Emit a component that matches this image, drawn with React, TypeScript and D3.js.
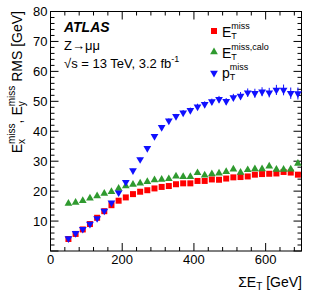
import React from 'react';
import * as d3 from 'd3';

// bin centres in sum ET [GeV]
const sumEt = [50, 70, 90, 110, 130, 150, 170, 190, 210, 230, 250, 270, 290, 310, 330, 350, 370,
    390, 410, 430, 450, 470, 490, 510, 530, 550, 570, 590, 610, 630, 650, 670, 690];

const etMiss = [4.0, 5.7, 7.2, 9.0, 11.1, 13.3, 15.3, 16.8, 17.9, 19.0, 19.8, 20.3, 20.9, 21.4, 21.7,
    22.3, 22.6, 22.6, 23.4, 23.4, 23.9, 23.8, 24.2, 24.6, 24.7, 24.9, 25.5, 25.7, 25.8, 25.9, 26.4, 26.2, 25.5];

const etMissCalo = [15.9, 16.2, 16.8, 17.6, 18.4, 19.2, 19.8, 20.9, 21.7, 22.2, 22.6, 23.1, 23.7, 23.9,
    24.1, 25.0, 24.8, 24.8, 26.1, 25.3, 25.7, 26.0, 26.5, 27.3, 26.2, 27.1, 27.4, 27.4, 28.3, 27.2, 27.2, 27.3, 29.2];

const ptMiss = [4.2, 5.9, 7.3, 9.0, 10.9, 13.4, 16.1, 19.5, 23.0, 26.9, 30.6, 34.3, 38.3, 41.3, 43.5,
    45.0, 46.2, 47.0, 48.2, 49.0, 49.9, 50.7, 50.0, 51.3, 51.8, 52.9, 52.7, 53.2, 52.9, 53.8, 53.8, 52.7, 52.6];

const ptMissErr = [0.1, 0.1, 0.2, 0.2, 0.3, 0.3, 0.4, 0.5, 0.5, 0.6, 0.6, 0.7, 0.7, 0.8, 0.8, 0.8, 0.9,
    0.9, 1.0, 1.0, 1.0, 1.1, 1.1, 1.2, 1.3, 1.4, 1.5, 1.5, 1.6, 1.7, 1.8, 1.9, 2.0];

const xTicks = [0, 200, 400, 600];
const yTicks = [10, 20, 30, 40, 50, 60, 70, 80];

const FONT = '"Liberation Sans", Arial, Helvetica, sans-serif';
const RED = '#ff0000';
const GREEN = '#2f9a2f';
const BLUE = '#1010ff';

const W = 309;
const H = 295;
const L = 50.5, R = 301.5, T = 11.5, B = 251;

const App = () => {
    const x = d3.scaleLinear().domain([0, 700]).range([L, R]);
    const y = d3.scaleLinear().domain([0, 80]).range([B, T]);

    const square = d3.symbol().type(d3.symbolSquare).size(36)() as string;
    const triUp = d3.symbol().type(d3.symbolTriangle).size(26)() as string;

    const xMinor = d3.range(0, 701, 40);
    const yMinor = d3.range(0, 81, 2);

    return (
        <svg width={W} height={H} style={{ position: 'absolute', left: 0, top: 0, background: '#fff' }}
            fontFamily={FONT}>
            <rect x={0} y={0} width={W} height={H} fill="#fff" />

            {/* frame ticks */}
            <g stroke="#000" strokeWidth={1}>
                {xMinor.map(v => {
                    const major = v % 200 === 0;
                    const len = major ? 8 : 4;
                    return (
                        <g key={'xt' + v}>
                            <line x1={x(v)} x2={x(v)} y1={B} y2={B - len} />
                            <line x1={x(v)} x2={x(v)} y1={T} y2={T + len} />
                        </g>
                    );
                })}
                {yMinor.map(v => {
                    const major = v % 10 === 0;
                    const len = major ? 8 : 4;
                    return (
                        <g key={'yt' + v}>
                            <line x1={L} x2={L + len} y1={y(v)} y2={y(v)} />
                            <line x1={R} x2={R - len} y1={y(v)} y2={y(v)} />
                        </g>
                    );
                })}
            </g>
            <rect x={L} y={T} width={R - L} height={B - T} fill="none" stroke="#000" strokeWidth={1} />

            {/* tick labels */}
            <g fontSize={13} fill="#000">
                {xTicks.map(v => (
                    <text key={'xl' + v} x={x(v)} y={264} textAnchor="middle">{v}</text>
                ))}
                {yTicks.map(v => (
                    <text key={'yl' + v} x={47.5} y={y(v) + 4.6} textAnchor="end">{v}</text>
                ))}
            </g>

            {/* axis titles */}
            <text x={302} y={287} textAnchor="end" fontSize={14}>
                ΣE<tspan fontSize={10} dy={3}>T</tspan><tspan dy={-3}> [GeV]</tspan>
            </text>
            <text transform="translate(22,11) rotate(-90)" textAnchor="end" fontSize={14}>
                E<tspan fontSize={10} dy={3}>x</tspan>
                <tspan fontSize={10} dx="-0.5em" dy={-10}>miss</tspan>
                <tspan dy={7}>, E</tspan>
                <tspan fontSize={10} dy={3}>y</tspan>
                <tspan fontSize={10} dx="-0.5em" dy={-10}>miss</tspan>
                <tspan dy={7}> RMS [GeV]</tspan>
            </text>

            {/* error bars */}
            <g stroke={BLUE} strokeWidth={1}>
                {sumEt.map((v, i) => (
                    <line key={'pe' + i} x1={x(v)} x2={x(v)}
                        y1={y(ptMiss[i] - ptMissErr[i])} y2={y(ptMiss[i] + ptMissErr[i])} />
                ))}
            </g>

            {/* markers */}
            <g fill={RED}>
                {sumEt.map((v, i) => (
                    <path key={'r' + i} d={square} transform={`translate(${x(v)},${y(etMiss[i])})`} />
                ))}
            </g>
            <g fill={GREEN}>
                {sumEt.map((v, i) => (
                    <path key={'g' + i} d={triUp} transform={`translate(${x(v)},${y(etMissCalo[i])})`} />
                ))}
            </g>
            <g fill={BLUE}>
                {sumEt.map((v, i) => (
                    <path key={'b' + i} d={triUp}
                        transform={`translate(${x(v)},${y(ptMiss[i])}) rotate(180)`} />
                ))}
            </g>

            {/* ATLAS label */}
            <text x={64} y={32} fontSize={14} fontWeight="bold" fontStyle="italic">ATLAS</text>
            <text x={64} y={50} fontSize={13}>Z→μμ</text>
            <text x={64} y={68} fontSize={13}>
                √s = 13 TeV, 3.2 fb<tspan fontSize={9} dy={-6}>-1</tspan>
            </text>

            {/* legend */}
            <path d={square} fill={RED} transform="translate(214,31)" />
            <text x={222} y={37} fontSize={14}>
                E<tspan fontSize={9} dy={2}>T</tspan>
                <tspan fontSize={9} dx="-0.61em" dy={-10}>miss</tspan>
            </text>
            <path d={triUp} fill={GREEN} transform="translate(214,52)" />
            <text x={222} y={58} fontSize={14}>
                E<tspan fontSize={9} dy={2}>T</tspan>
                <tspan fontSize={9} dx="-0.61em" dy={-10}>miss,calo</tspan>
            </text>
            <path d={triUp} fill={BLUE} transform="translate(214,73) rotate(180)" />
            <text x={222} y={78} fontSize={14}>
                p<tspan fontSize={9} dy={2}>T</tspan>
                <tspan fontSize={9} dx="-0.61em" dy={-10}>miss</tspan>
            </text>
        </svg>
    );
};

export default App;
